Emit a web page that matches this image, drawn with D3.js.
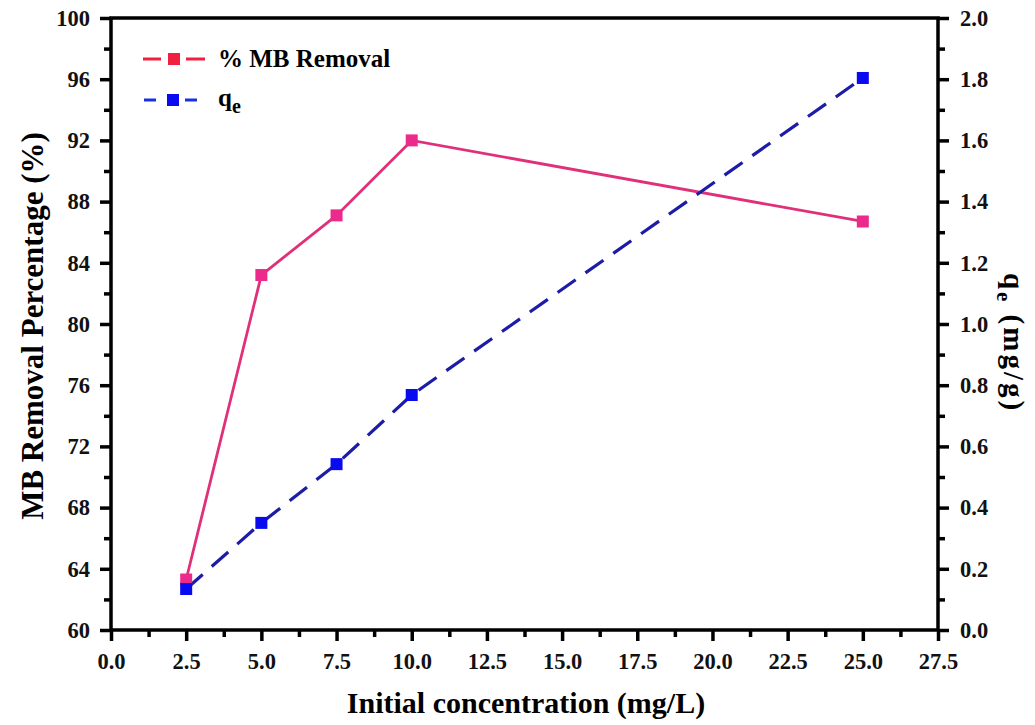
<!DOCTYPE html>
<html>
<head>
<meta charset="utf-8">
<script src="https://cdn.jsdelivr.net/npm/d3@7"></script>
<style>
  body { margin: 0; background: #fff; }
  svg text { font-family: "Liberation Serif", "Times New Roman", serif; font-weight: bold; }
</style>
</head>
<body>
<div id="chart"></div>
<script>
// data
const concentrations = [2.5, 5, 7.5, 10, 25];
const removalPct = [63.3, 83.2, 87.1, 92.0, 86.7];
const qeValues = [0.134, 0.35, 0.542, 0.768, 1.804];
const xTicks = [0, 2.5, 5, 7.5, 10, 12.5, 15, 17.5, 20, 22.5, 25, 27.5];
const leftTicks = [60, 64, 68, 72, 76, 80, 84, 88, 92, 96, 100];
const rightTicks = [0, 0.2, 0.4, 0.6, 0.8, 1.0, 1.2, 1.4, 1.6, 1.8, 2.0];

const width = 1035, height = 725;
const margin = {left: 111, right: 97, top: 18, bottom: 95};

const svg = d3.select('#chart').append('svg')
    .attr('width', width)
    .attr('height', height);

const x = d3.scaleLinear().domain([0, 27.5]).range([margin.left, width - margin.right]);
const yL = d3.scaleLinear().domain([60, 100]).range([height - margin.bottom, margin.top]);
const yR = d3.scaleLinear().domain([0, 2]).range([height - margin.bottom, margin.top]);

const x0 = margin.left, x1 = width - margin.right;
const y0 = height - margin.bottom, y1 = margin.top;

//minor ticks, half way between the majors
function minors(ticks) {
    let out = [];
    for (let i = 0; i < ticks.length - 1; i++) out.push((ticks[i] + ticks[i + 1]) / 2);
    return out;
}

const axisStroke = 3.5;
function styleAxis(g) {
    g.select('.domain').remove();
    g.selectAll('line').attr('stroke', '#000').attr('stroke-width', axisStroke);
    g.selectAll('text').attr('font-size', 22.5).attr('fill', '#111');
}

// bottom axis
svg.append('g').attr('transform', `translate(0,${y0})`)
    .call(d3.axisBottom(x).tickValues(xTicks).tickFormat(d3.format('.1f')).tickSize(11).tickPadding(12))
    .call(styleAxis);
svg.append('g').attr('transform', `translate(0,${y0})`)
    .call(d3.axisBottom(x).tickValues(minors(xTicks)).tickFormat('').tickSize(7))
    .call(styleAxis);

// left axis
svg.append('g').attr('transform', `translate(${x0},0)`)
    .call(d3.axisLeft(yL).tickValues(leftTicks).tickFormat(d3.format('d')).tickSize(11).tickPadding(10))
    .call(styleAxis);
svg.append('g').attr('transform', `translate(${x0},0)`)
    .call(d3.axisLeft(yL).tickValues(minors(leftTicks)).tickFormat('').tickSize(7))
    .call(styleAxis);

// right axis
svg.append('g').attr('transform', `translate(${x1},0)`)
    .call(d3.axisRight(yR).tickValues(rightTicks).tickFormat(d3.format('.1f')).tickSize(11).tickPadding(11))
    .call(styleAxis);
svg.append('g').attr('transform', `translate(${x1},0)`)
    .call(d3.axisRight(yR).tickValues(minors(rightTicks)).tickFormat('').tickSize(7))
    .call(styleAxis);

// frame lines
svg.append('path')
    .attr('d', `M${x0},${y0}V${y1}H${x1}V${y0}Z`)
    .attr('fill', 'none')
    .attr('stroke', '#000')
    .attr('stroke-width', axisStroke);

// removal series
const lineL = d3.line().x((d, i) => x(concentrations[i])).y(d => yL(d));
svg.append('path')
    .datum(removalPct)
    .attr('d', lineL)
    .attr('fill', 'none')
    .attr('stroke', '#e0307a')
    .attr('stroke-width', 2.8);

// qe series
const lineR = d3.line().x((d, i) => x(concentrations[i])).y(d => yR(d));
svg.append('path')
    .datum(qeValues)
    .attr('d', lineR)
    .attr('fill', 'none')
    .attr('stroke', '#1c1ca8')
    .attr('stroke-width', 3.2)
    .attr('stroke-dasharray', '22,12');

const ms = 12;
svg.append('g').selectAll('rect')
    .data(removalPct)
    .join('rect')
    .attr('x', (d, i) => x(concentrations[i]) - ms / 2)
    .attr('y', d => yL(d) - ms / 2)
    .attr('width', ms).attr('height', ms)
    .attr('fill', '#ec2a8c');

svg.append('g').selectAll('rect')
    .data(qeValues)
    .join('rect')
    .attr('x', (d, i) => x(concentrations[i]) - ms / 2)
    .attr('y', d => yR(d) - ms / 2)
    .attr('width', ms).attr('height', ms)
    .attr('fill', '#0a0af0');

// legend
const legend = svg.append('g');
legend.append('path').attr('d', 'M143,59H161M186,59H205')
    .attr('stroke', '#f02040').attr('stroke-width', 2.8);
legend.append('rect').attr('x', 168).attr('y', 53).attr('width', 12).attr('height', 12).attr('fill', '#f02040');
legend.append('text').attr('x', 218).attr('y', 67).attr('font-size', 25).text('% MB Removal');

legend.append('path').attr('d', 'M144,100H156M185,100H197')
    .attr('stroke', '#1a30e0').attr('stroke-width', 2.8);
legend.append('rect').attr('x', 167).attr('y', 94).attr('width', 12).attr('height', 12).attr('fill', '#0a0af0');
const qe = legend.append('text').attr('x', 218).attr('y', 106).attr('font-size', 25);
qe.append('tspan').text('q');
qe.append('tspan').attr('dy', 7).attr('font-size', 20).text('e');

// axis titles
svg.append('text')
    .attr('x', 526).attr('y', 713)
    .attr('text-anchor', 'middle').attr('font-size', 30)
    .text('Initial concentration (mg/L)');

svg.append('text')
    .attr('transform', `translate(43,326) rotate(-90)`)
    .attr('text-anchor', 'middle').attr('font-size', 31)
    .text('MB Removal Percentage (%)');

const rt = svg.append('text')
    .attr('transform', `translate(1004,343) rotate(90)`)
    .attr('text-anchor', 'middle').attr('font-size', 29)
    .style('letter-spacing', '3px');
rt.append('tspan').text('q');
rt.append('tspan').attr('dy', 7).attr('font-size', 21).text('e');
rt.append('tspan').attr('dy', -7).text(' (mg/g)');
</script>
</body>
</html>
